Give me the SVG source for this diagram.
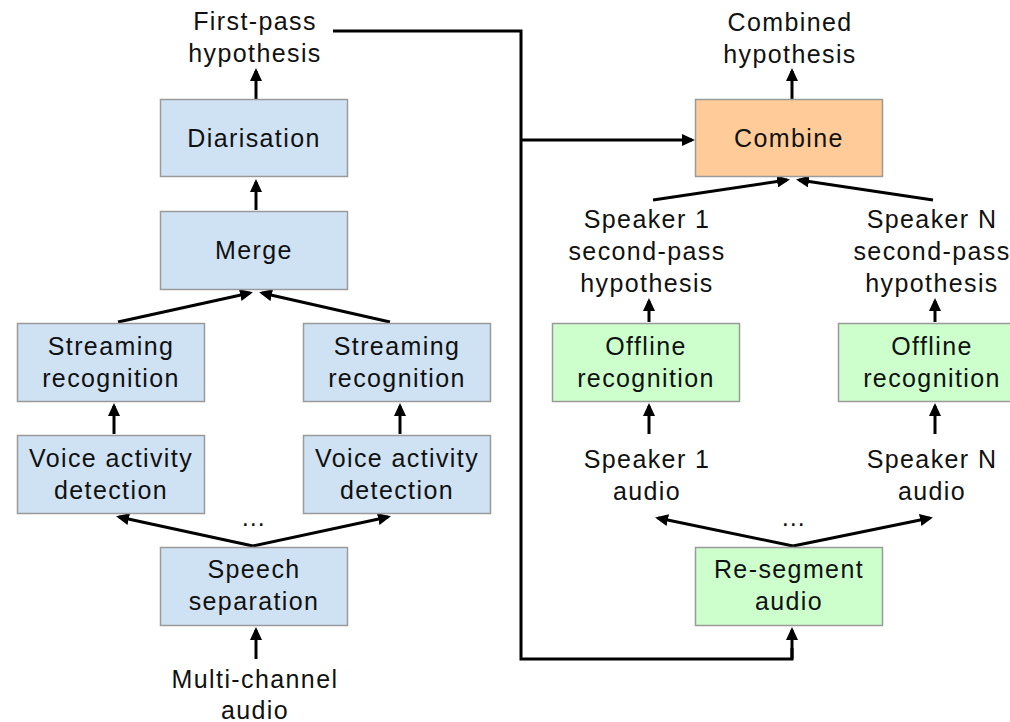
<svg xmlns="http://www.w3.org/2000/svg" width="1010" height="722" viewBox="0 0 1010 722">
<style>
  .box{stroke:#9a9a9a;stroke-width:1.5}
  .blue{fill:#cfe2f3}
  .green{fill:#ccffcc}
  .orange{fill:#ffcc99}
  text{font-family:"Liberation Sans",Arial,sans-serif;font-size:25px;letter-spacing:1.4px;fill:#111;text-anchor:middle}
  .c{fill:none;stroke:#000;stroke-width:3}
  .a{marker-end:url(#ah)}
</style>
<defs>
  <marker id="ah" viewBox="0 0 13 12" refX="10" refY="6" markerWidth="13" markerHeight="12" markerUnits="userSpaceOnUse" orient="auto">
    <path d="M0,0 L13,6 L0,12 z" fill="#000"/>
  </marker>
</defs>
<rect width="1010" height="722" fill="#fff"/>

<g id="connectors">
  <line class="c a" x1="256" y1="99" x2="256" y2="71"/>
  <line class="c a" x1="256" y1="210" x2="256" y2="182"/>
  <line class="c a" x1="118" y1="322" x2="250" y2="293"/>
  <line class="c a" x1="390" y1="322" x2="262" y2="293"/>
  <line class="c a" x1="114" y1="434" x2="114" y2="406"/>
  <line class="c a" x1="400" y1="434" x2="400" y2="406"/>
  <line class="c a" x1="253" y1="546" x2="119" y2="517"/>
  <line class="c a" x1="253" y1="546" x2="388" y2="517"/>
  <line class="c a" x1="256" y1="659" x2="256" y2="630"/>
  <polyline class="c" points="333,31 521,31 521,659 792,659 792,648"/>
  <line class="c a" x1="792" y1="659" x2="792" y2="630"/>
  <line class="c a" x1="521" y1="140" x2="692" y2="140"/>
  <line class="c a" x1="792" y1="99" x2="792" y2="71"/>
  <line class="c a" x1="653" y1="200" x2="787" y2="180"/>
  <line class="c a" x1="933" y1="200" x2="799" y2="180"/>
  <line class="c a" x1="649" y1="322" x2="649" y2="301"/>
  <line class="c a" x1="935" y1="322" x2="935" y2="301"/>
  <line class="c a" x1="649" y1="434" x2="649" y2="406"/>
  <line class="c a" x1="935" y1="434" x2="935" y2="406"/>
  <line class="c a" x1="793" y1="546" x2="658" y2="518"/>
  <line class="c a" x1="793" y1="546" x2="930" y2="518"/>
</g>

<g id="first-pass-label">
  <text x="255" y="30">First-pass</text>
  <text x="255" y="62">hypothesis</text>
</g>
<g id="diarisation">
  <rect class="box blue" x="160.5" y="99.5" width="187" height="77"/>
  <text x="254" y="147">Diarisation</text>
</g>
<g id="merge">
  <rect class="box blue" x="160.5" y="211.5" width="187" height="78"/>
  <text x="254" y="259">Merge</text>
</g>
<g id="streaming-1">
  <rect class="box blue" x="17.5" y="323.5" width="187" height="78"/>
  <text x="111" y="355">Streaming</text>
  <text x="111" y="387">recognition</text>
</g>
<g id="streaming-n">
  <rect class="box blue" x="303.5" y="323.5" width="187" height="78"/>
  <text x="397" y="355">Streaming</text>
  <text x="397" y="387">recognition</text>
</g>
<g id="vad-1">
  <rect class="box blue" x="17.5" y="435.5" width="187" height="78"/>
  <text x="111" y="467">Voice activity</text>
  <text x="111" y="499">detection</text>
</g>
<g id="vad-n">
  <rect class="box blue" x="303.5" y="435.5" width="187" height="78"/>
  <text x="397" y="467">Voice activity</text>
  <text x="397" y="499">detection</text>
</g>
<g id="dots-left">
  <text x="254" y="526">…</text>
</g>
<g id="speech-separation">
  <rect class="box blue" x="160.5" y="547.5" width="187" height="78"/>
  <text x="254" y="578">Speech</text>
  <text x="254" y="610">separation</text>
</g>
<g id="multichannel-label">
  <text x="255" y="688">Multi-channel</text>
  <text x="255" y="719">audio</text>
</g>

<g id="combined-label">
  <text x="790" y="31">Combined</text>
  <text x="790" y="63">hypothesis</text>
</g>
<g id="combine">
  <rect class="box orange" x="695.5" y="99.5" width="187" height="77"/>
  <text x="789" y="147">Combine</text>
</g>
<g id="spk1-hyp">
  <text x="647" y="228">Speaker 1</text>
  <text x="647" y="260">second-pass</text>
  <text x="647" y="292">hypothesis</text>
</g>
<g id="spkn-hyp">
  <text x="932" y="228">Speaker N</text>
  <text x="932" y="260">second-pass</text>
  <text x="932" y="292">hypothesis</text>
</g>
<g id="offline-1">
  <rect class="box green" x="552.5" y="323.5" width="187" height="78"/>
  <text x="646" y="355">Offline</text>
  <text x="646" y="387">recognition</text>
</g>
<g id="offline-n">
  <rect class="box green" x="838.5" y="323.5" width="187" height="78"/>
  <text x="932" y="355">Offline</text>
  <text x="932" y="387">recognition</text>
</g>
<g id="spk1-audio">
  <text x="647" y="468">Speaker 1</text>
  <text x="647" y="500">audio</text>
</g>
<g id="spkn-audio">
  <text x="932" y="468">Speaker N</text>
  <text x="932" y="500">audio</text>
</g>
<g id="dots-right">
  <text x="794" y="526">…</text>
</g>
<g id="resegment">
  <rect class="box green" x="695.5" y="547.5" width="187" height="78"/>
  <text x="789" y="578">Re-segment</text>
  <text x="789" y="610">audio</text>
</g>
</svg>
